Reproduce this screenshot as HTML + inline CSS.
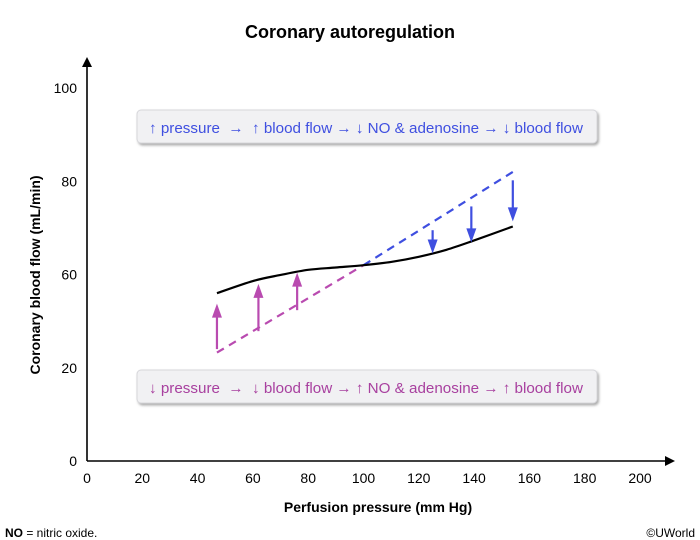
<!DOCTYPE html>
<html><head><meta charset="utf-8"><style>
body{margin:0;background:#fff;font-family:"Liberation Sans",Arial,sans-serif}
svg{display:block}
</style></head><body>
<svg id="chart" width="700" height="540" xmlns="http://www.w3.org/2000/svg">
<defs>
<filter id="sh" x="-5%" y="-30%" width="110%" height="170%"><feDropShadow dx="1.5" dy="2" stdDeviation="1.2" flood-color="#888" flood-opacity="0.7"/></filter>
<marker id="ah" markerWidth="10" markerHeight="10" refX="5" refY="5" orient="auto" markerUnits="userSpaceOnUse"><path d="M0,0 L10,5 L0,10 Z" fill="#000"/></marker>
</defs>
<text x="350" y="38" text-anchor="middle" font-size="18" font-weight="bold">Coronary autoregulation</text>
<text transform="translate(40,275) rotate(-90)" text-anchor="middle" font-size="14" font-weight="bold">Coronary blood flow (mL/min)</text>
<text x="378" y="512" text-anchor="middle" font-size="14" font-weight="bold">Perfusion pressure (mm Hg)</text>
<text x="5" y="537" font-size="12"><tspan font-weight="bold">NO</tspan> = nitric oxide.</text>
<text x="695" y="537" text-anchor="end" font-size="12">©UWorld</text>
<g id="axes"></g>
<g id="marks"></g>
<g>
<rect x="137" y="110" width="460" height="33" rx="4" fill="#f1f1f3" stroke="#d6d6da" filter="url(#sh)"/>
<text x="366" y="133" text-anchor="middle" font-size="15.2" fill="#3f4fe0" xml:space="preserve">↑ pressure  →  ↑ blood flow → ↓ NO &amp; adenosine → ↓ blood flow</text>
</g>
<g>
<rect x="137" y="370" width="460" height="33" rx="4" fill="#f1f1f3" stroke="#d6d6da" filter="url(#sh)"/>
<text x="366" y="393" text-anchor="middle" font-size="15.2" fill="#a8409f" xml:space="preserve">↓ pressure  →  ↓ blood flow → ↑ NO &amp; adenosine → ↑ blood flow</text>
</g>
</svg>
<script>
const xTicks=[0,20,40,60,80,100,120,140,160,180,200];
const yTickLabels=[0,20,60,80,100];
const curveX=[47,60,70,80,90,100,110,120,130,140,154];
const curveY=[52,57.2,59.8,61,61.5,62,62.7,63.8,65.3,67.3,70.3];
const lowDashX=[47,100];
const lowDashY=[26.5,62];
const highDashX=[100,154];
const highDashY=[62,82];
const upArrowX=[47,62,76];
const upArrowFrom=[28,35.7,44.7];
const upArrowTo=[47.5,56,60.4];
const downArrowX=[125,139,154];
const downArrowFrom=[69.5,74.6,80.2];
const downArrowTo=[64.5,66.9,71.4];

const NS="http://www.w3.org/2000/svg";
const X0=87,X1=640,Y0=461,YSTEP=93.25;
function xs(v){return X0+(v-0)/200*(X1-X0);}
function ys(v){
  for(let i=0;i<yTickLabels.length-1;i++){
    const a=yTickLabels[i],b=yTickLabels[i+1];
    if(v<=b||i===yTickLabels.length-2){return Y0-(i+(v-a)/(b-a))*YSTEP;}
  }
}
function mk(tag,attrs,parent){const e=document.createElementNS(NS,tag);for(const k in attrs)e.setAttribute(k,attrs[k]);parent.appendChild(e);return e;}
const axes=document.getElementById('axes'),marks=document.getElementById('marks');
let e=mk('line',{x1:X0,y1:Y0,x2:X0,y2:62,stroke:'#000','stroke-width':1.6,'marker-end':'url(#ah)'},axes);


e=mk('line',{x1:X0,y1:Y0,x2:670,y2:Y0,stroke:'#000','stroke-width':1.6,'marker-end':'url(#ah)'},axes);


xTicks.forEach(t=>{
  const el=mk('text',{x:xs(t),y:483,'text-anchor':'middle','font-size':14},axes);el.textContent=t;
  
  
});
yTickLabels.forEach(t=>{
  const el=mk('text',{x:77,y:ys(t)+5,'text-anchor':'end','font-size':14},axes);el.textContent=t;
  
  
});
function pathFrom(xa,ya){
  const p=xa.map((x,i)=>[xs(x),ys(ya[i])]);
  let d='M'+p[0][0]+','+p[0][1];
  for(let i=0;i<p.length-1;i++){
    const p0=p[i-1]||p[i],p1=p[i],p2=p[i+1],p3=p[i+2]||p2;
    d+=` C${p1[0]+(p2[0]-p0[0])/6},${p1[1]+(p2[1]-p0[1])/6} ${p2[0]-(p3[0]-p1[0])/6},${p2[1]-(p3[1]-p1[1])/6} ${p2[0]},${p2[1]}`;
  }
  return d;
}
e=mk('line',{x1:xs(lowDashX[0]),y1:ys(lowDashY[0]),x2:xs(lowDashX[1]),y2:ys(lowDashY[1]),stroke:'#b94bb0','stroke-width':2.2,'stroke-dasharray':'8,6'},marks);


e=mk('line',{x1:xs(highDashX[0]),y1:ys(highDashY[0]),x2:xs(highDashX[1]),y2:ys(highDashY[1]),stroke:'#3f4fe0','stroke-width':2.2,'stroke-dasharray':'8,6'},marks);


e=mk('path',{d:pathFrom(curveX,curveY),fill:'none',stroke:'#000','stroke-width':2.2},marks);


function arrow(x,from,to,color,name){
  const px=xs(x),y1=ys(from),y2=ys(to),dir=y2<y1?1:-1;
  const g=mk('g',{},marks);
  
  
  mk('line',{x1:px,y1:y1,x2:px,y2:y2+dir*10,stroke:color,'stroke-width':2.2},g);
  mk('path',{d:`M${px},${y2} L${px-5},${y2+dir*14} L${px+5},${y2+dir*14} Z`,fill:color},g);
}
upArrowX.forEach((x,i)=>arrow(x,upArrowFrom[i],upArrowTo[i],'#b94bb0','up-arrow'));
downArrowX.forEach((x,i)=>arrow(x,downArrowFrom[i],downArrowTo[i],'#3f4fe0','down-arrow'));
</script>
</body></html>
